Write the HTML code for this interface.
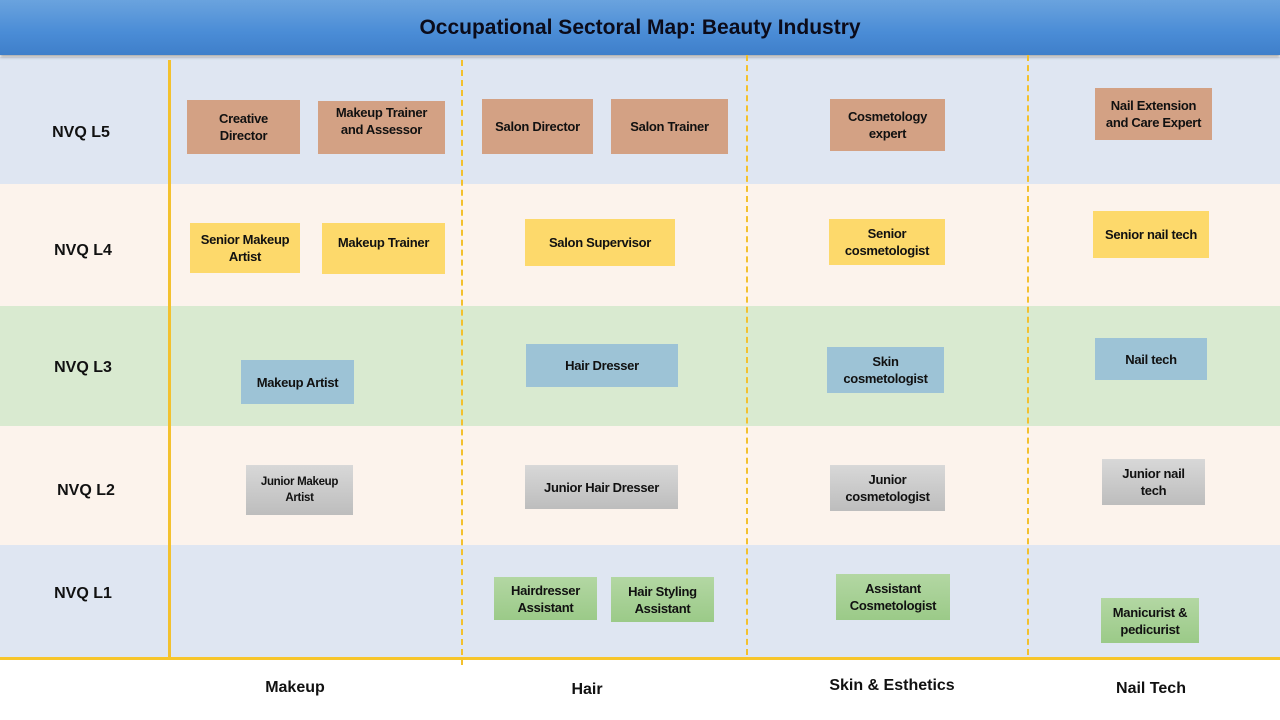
<!DOCTYPE html>
<html><head><meta charset="utf-8"><style>
body{margin:0;width:1280px;height:720px;position:relative;overflow:hidden;background:#fff;font-family:"Liberation Sans",sans-serif;font-weight:bold;color:#111}
.hdr{position:absolute;left:0;top:0;width:1280px;height:55px;background:linear-gradient(#6aa3de,#4a8cd6 60%,#3f7fca);box-shadow:0 2px 3px rgba(0,0,0,.35);text-align:center;line-height:55px;font-size:21px;color:#0b0b1a}
.band{position:absolute;left:0;width:1280px}
.b{position:absolute;display:flex;align-items:center;justify-content:center;text-align:center;font-size:13px;line-height:17px;letter-spacing:-0.3px}
.br{background:#d3a184}.y{background:#fdd96b}.bl{background:#9dc3d6}.g{background:linear-gradient(#d8d8d8,#bdbdbd)}.gr{background:linear-gradient(#b3d7a3,#9bca88)}
.lvl{position:absolute;font-size:16px;width:80px;text-align:center}
.dash{position:absolute;top:60px;height:600px;border-left:2px dashed #f3c12e}
.col{position:absolute;font-size:16px;text-align:center;width:200px}
</style></head><body>
<div class="band" style="top:57px;height:127px;background:#dfe6f2"></div>
<div class="band" style="top:184px;height:122px;background:#fcf3ec"></div>
<div class="band" style="top:306px;height:120px;background:#d9ead0"></div>
<div class="band" style="top:426px;height:119px;background:#fcf3ec"></div>
<div class="band" style="top:545px;height:114px;background:#dfe6f2"></div>
<div class="hdr">Occupational Sectoral Map: Beauty Industry</div>
<div style="position:absolute;left:168px;top:60px;width:3px;height:598px;background:#f3c12e"></div>
<div class="dash" style="left:461px;height:605px"></div>
<div class="dash" style="left:746px;top:55px"></div>
<div class="dash" style="left:1027px;top:55px"></div>
<div style="position:absolute;left:0;top:657px;width:1280px;height:3px;background:#f7c52a"></div>
<div class="lvl" style="left:41px;top:124px">NVQ L5</div>
<div class="lvl" style="left:43px;top:242px">NVQ L4</div>
<div class="lvl" style="left:43px;top:359px">NVQ L3</div>
<div class="lvl" style="left:46px;top:482px">NVQ L2</div>
<div class="lvl" style="left:43px;top:585px">NVQ L1</div>

<div class="b br" style="left:187px;top:100px;width:113px;height:54px">Creative<br>Director</div>
<div class="b br" style="left:318px;top:101px;width:127px;height:53px;align-items:flex-start;padding-top:3px;box-sizing:border-box">Makeup Trainer<br>and Assessor</div>
<div class="b br" style="left:482px;top:99px;width:111px;height:55px">Salon Director</div>
<div class="b br" style="left:611px;top:99px;width:117px;height:55px">Salon Trainer</div>
<div class="b br" style="left:830px;top:99px;width:115px;height:52px">Cosmetology<br>expert</div>
<div class="b br" style="left:1095px;top:88px;width:117px;height:52px">Nail Extension<br>and Care Expert</div>

<div class="b y" style="left:190px;top:223px;width:110px;height:50px">Senior Makeup<br>Artist</div>
<div class="b y" style="left:322px;top:223px;width:123px;height:51px;align-items:flex-start;padding-top:11px;box-sizing:border-box">Makeup Trainer</div>
<div class="b y" style="left:525px;top:219px;width:150px;height:47px">Salon Supervisor</div>
<div class="b y" style="left:829px;top:219px;width:116px;height:46px">Senior<br>cosmetologist</div>
<div class="b y" style="left:1093px;top:211px;width:116px;height:47px">Senior nail tech</div>

<div class="b bl" style="left:241px;top:360px;width:113px;height:44px">Makeup Artist</div>
<div class="b bl" style="left:526px;top:344px;width:152px;height:43px">Hair Dresser</div>
<div class="b bl" style="left:827px;top:347px;width:117px;height:46px">Skin<br>cosmetologist</div>
<div class="b bl" style="left:1095px;top:338px;width:112px;height:42px">Nail tech</div>

<div class="b g" style="left:246px;top:465px;width:107px;height:50px;font-size:11.5px;line-height:16px">Junior Makeup<br>Artist</div>
<div class="b g" style="left:525px;top:465px;width:153px;height:44px">Junior Hair Dresser</div>
<div class="b g" style="left:830px;top:465px;width:115px;height:46px">Junior<br>cosmetologist</div>
<div class="b g" style="left:1102px;top:459px;width:103px;height:46px">Junior nail<br>tech</div>

<div class="b gr" style="left:494px;top:577px;width:103px;height:43px">Hairdresser<br>Assistant</div>
<div class="b gr" style="left:611px;top:577px;width:103px;height:45px">Hair Styling<br>Assistant</div>
<div class="b gr" style="left:836px;top:574px;width:114px;height:46px">Assistant<br>Cosmetologist</div>
<div class="b gr" style="left:1101px;top:598px;width:98px;height:45px">Manicurist &amp;<br>pedicurist</div>

<div class="col" style="left:195px;top:679px">Makeup</div>
<div class="col" style="left:487px;top:681px">Hair</div>
<div class="col" style="left:792px;top:677px">Skin &amp; Esthetics</div>
<div class="col" style="left:1051px;top:680px">Nail Tech</div>
</body></html>
